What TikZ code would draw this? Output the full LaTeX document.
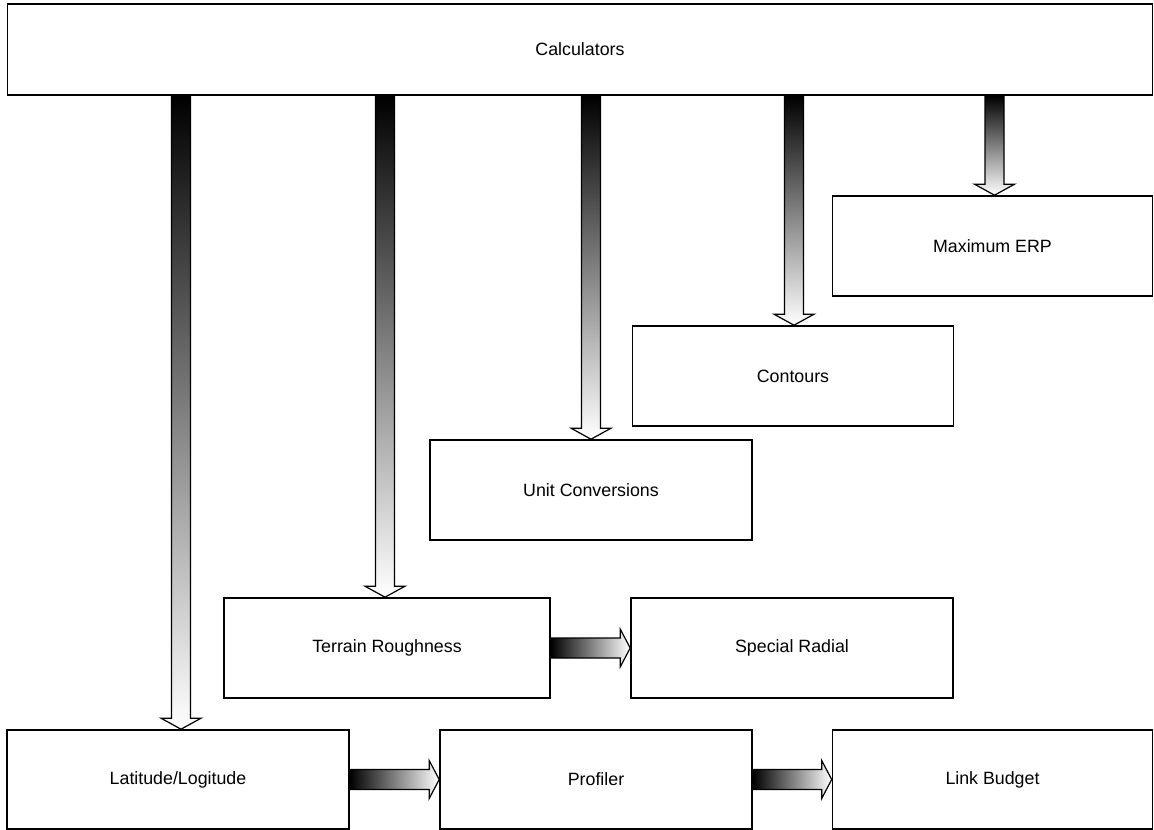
\documentclass[tikz,border=0pt]{standalone}
\usepackage{fontspec}
\setmainfont{Liberation Sans}
\usetikzlibrary{calc}
\tikzset{
  box/.style={draw=black, line width=1.6pt, fill=white, rectangle, inner sep=0pt, font=\fontsize{17.8}{20}\selectfont},
  vshade/.style={top color=black, bottom color=white, draw=black, line width=1.2pt, line join=miter},
  hshade/.style={left color=black, right color=white, draw=black, line width=1.2pt, line join=miter},
}
\newcommand{\downarrowbox}[3][0]{%
  \coordinate (tip) at ($(#3.north)+(#1,0)$);
  \coordinate (tail) at (#2.south -| tip);
  \shadedraw[vshade] ($(tail)+(-9.5,0)$) -- ($(tip)+(-9.5,-11)$) -- ($(tip)+(-20,-11)$) -- (tip) -- ($(tip)+(20,-11)$) -- ($(tip)+(9.5,-11)$) -- ($(tail)+(9.5,0)$) -- cycle;}
\newcommand{\rightarrowbox}[2]{%
  \shadedraw[hshade] ($(#1.east)+(0,10)$) -- ($(#2.west |- #1.east)+(-10,10)$) -- ($(#2.west |- #1.east)+(-10,19)$) -- (#2.west |- #1.east) -- ($(#2.west |- #1.east)+(-10,-19)$) -- ($(#2.west |- #1.east)+(-10,-10)$) -- ($(#1.east)+(0,-10)$) -- cycle;}
\begin{document}
\begin{tikzpicture}[x=1pt,y=-1pt]
\useasboundingbox (0,0) rectangle (1154,830);
\node[box, minimum width=1145pt, minimum height=91pt] (calc) at (580,49.5) {Calculators};
\node[box, minimum width=320pt, minimum height=100pt] (erp) at (992.5,246) {Maximum ERP};
\node[box, minimum width=321pt, minimum height=100pt] (cont) at (793,376) {Contours};
\node[box, minimum width=322pt, minimum height=100pt] (unit) at (591,490) {Unit Conversions};
\node[box, minimum width=326pt, minimum height=100pt] (terr) at (387,648) {Terrain Roughness};
\node[box, minimum width=322pt, minimum height=100pt] (spec) at (792,648) {Special Radial};
\node[box, minimum width=342pt, minimum height=99pt] (lat) at (178,779.5) {Latitude/Logitude};
\node[box, minimum width=312pt, minimum height=99pt] (prof) at (596,779.5) {Profiler};
\node[box, minimum width=320pt, minimum height=99pt] (link) at (992.5,779.5) {Link Budget};
\downarrowbox[2]{calc}{erp}
\downarrowbox[1]{calc}{cont}
\downarrowbox{calc}{unit}
\downarrowbox[-2]{calc}{terr}
\downarrowbox[3]{calc}{lat}
\rightarrowbox{terr}{spec}
\rightarrowbox{lat}{prof}
\rightarrowbox{prof}{link}
\end{tikzpicture}
\end{document}
